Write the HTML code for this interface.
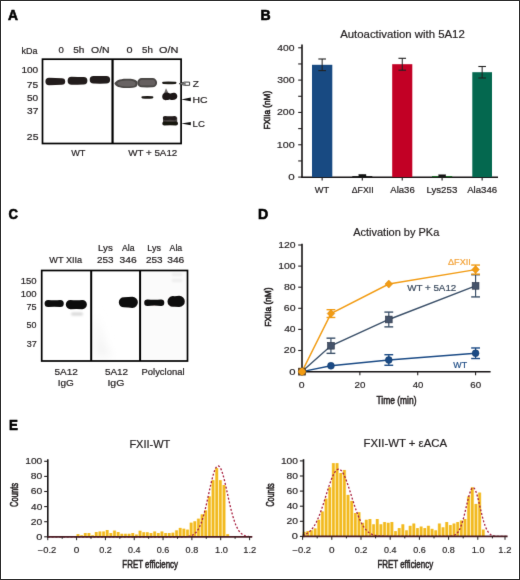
<!DOCTYPE html>
<html><head><meta charset="utf-8"><title>Figure</title>
<style>
html,body{margin:0;padding:0;background:#fff;}
body{width:520px;height:580px;overflow:hidden;}
svg{display:block;font-family:"Liberation Sans",sans-serif;will-change:transform;}
</style></head>
<body>
<svg width="520" height="580" viewBox="0 0 520 580">
<defs>
<clipPath id="clip0"><rect x="298.3" y="367.9" width="7.4" height="7.4"/></clipPath>
<filter id="blur1" x="-20%" y="-50%" width="140%" height="200%"><feGaussianBlur stdDeviation="0.6"/></filter>
<filter id="blur2" x="-50%" y="-50%" width="200%" height="200%"><feGaussianBlur stdDeviation="2"/></filter>
<filter id="blur2s" x="-50%" y="-100%" width="200%" height="300%"><feGaussianBlur stdDeviation="0.9"/></filter>
<filter id="blur3" x="-50%" y="-50%" width="200%" height="200%"><feGaussianBlur stdDeviation="5"/></filter>
<filter id="soft" x="0" y="0" width="520" height="580" filterUnits="userSpaceOnUse" color-interpolation-filters="sRGB"><feConvolveMatrix order="3" kernelMatrix="0.0064 0.0672 0.0064 0.0672 0.7056 0.0672 0.0064 0.0672 0.0064" divisor="1" edgeMode="duplicate" preserveAlpha="true"/></filter>
</defs>
<g filter="url(#soft)">
<rect width="520" height="580" fill="#fff"/>
<text x="7.97" y="19.60" font-size="14" font-weight="bold" textLength="9.99" lengthAdjust="spacingAndGlyphs" stroke="#000" stroke-width="0.6" fill="#000" >A</text>
<text x="260.57" y="19.60" font-size="14" font-weight="bold" textLength="10.16" lengthAdjust="spacingAndGlyphs" stroke="#000" stroke-width="0.6" fill="#000" >B</text>
<text x="8.46" y="218.70" font-size="14" font-weight="bold" textLength="9.50" lengthAdjust="spacingAndGlyphs" stroke="#000" stroke-width="0.6" fill="#000" >C</text>
<text x="257.97" y="218.70" font-size="14" font-weight="bold" textLength="10.22" lengthAdjust="spacingAndGlyphs" stroke="#000" stroke-width="0.6" fill="#000" >D</text>
<text x="9.02" y="429.60" font-size="14" font-weight="bold" textLength="8.90" lengthAdjust="spacingAndGlyphs" stroke="#000" stroke-width="0.6" fill="#000" >E</text>
<g filter="url(#blur1)">
<path d="M49.10 77.80 Q55.30 77.92 61.87 78.17 A3.33 3.33 0 0 1 61.87 84.83 Q55.30 85.08 49.10 85.20 A3.70 3.70 0 0 1 49.10 77.80 Z" fill="#241e1c" />
<path d="M71.60 76.80 Q77.50 76.94 83.72 77.12 A3.68 3.68 0 0 1 83.72 84.48 Q77.50 84.66 71.60 84.80 A4.00 4.00 0 0 1 71.60 76.80 Z" fill="#241e1c" />
<path d="M93.45 76.10 Q99.90 76.00 106.35 76.10 A3.75 3.75 0 0 1 106.35 83.60 Q99.90 83.70 93.45 83.60 A3.75 3.75 0 0 1 93.45 76.10 Z" fill="#241e1c" />
<path d="M114.4 83.6 C115.6 80.6 119.5 78.8 126 78.7 C131.5 78.6 135.2 79.0 136.9 81.0 C137.6 82.5 137.6 85.0 136.9 86.2 C135.2 87.7 131.5 88.1 126 88.1 C119.5 88.1 115.6 86.6 114.4 83.6 Z" fill="#4a4645"/>
<path d="M141.81 78.04 Q147.15 77.76 152.49 78.04 A4.61 4.61 0 0 1 152.49 87.26 Q147.15 87.54 141.81 87.26 A4.61 4.61 0 0 1 141.81 78.04 Z" fill="#4a4645" />
<path d="M117 83.5 C118.5 81.5 121.5 80.6 126 80.5 C130.5 80.5 133.5 80.9 135.2 82.3 C135.6 83.4 135.6 84.6 135.2 85.2 C133.5 86.3 130.5 86.4 126 86.4 C121.5 86.4 118.5 85.8 117 83.5 Z" fill="#686463"/>
<path d="M142.30 79.80 Q147.30 79.80 152.30 79.80 A2.90 2.90 0 0 1 152.30 85.60 Q147.30 85.60 142.30 85.60 A2.90 2.90 0 0 1 142.30 79.80 Z" fill="#655f5e" />
<path d="M163.22 81.63 Q169.25 81.30 175.42 81.77 A1.08 1.08 0 0 1 175.42 83.93 Q169.25 84.40 163.22 84.06 A1.22 1.22 0 0 1 163.22 81.63 Z" fill="#1f1a18" />
<path d="M142.52 96.18 Q147.40 95.62 152.28 96.18 A1.12 1.12 0 0 1 152.28 98.42 Q147.40 98.98 142.52 98.42 A1.12 1.12 0 0 1 142.52 96.18 Z" fill="#1f1a18" />
<path d="M164.0 93.6 L166.0 88.2 L168.6 93.6 Z" fill="#6e6a69"/>
<path d="M162.2 96.6 C162.2 93.8 164.2 92.4 166.4 92.4 C168.6 92.4 169.6 93.6 170.6 93.6 C171.6 93.2 173 92.6 174.4 92.8 C176.6 93.2 177.3 94.8 177.3 96.6 C177.3 99.0 175.4 100.0 172.4 100.0 C170.6 100.0 169.8 99.5 169.4 99.5 C168.8 99.6 167.6 100.2 165.6 100.2 C163.4 100.2 162.2 98.9 162.2 96.6 Z" fill="#1c1716"/>
<rect x="163.0" y="117.5" width="14.2" height="6.5" fill="#4a4443"/>
<path d="M164.95 115.90 Q169.80 116.70 174.65 115.90 A2.15 2.15 0 0 1 174.65 120.20 Q169.80 119.40 164.95 120.20 A2.15 2.15 0 0 1 164.95 115.90 Z" fill="#231d1c" />
<path d="M164.35 121.40 Q170.15 122.00 175.95 121.40 A2.05 2.05 0 0 1 175.95 125.50 Q170.15 124.90 164.35 125.50 A2.05 2.05 0 0 1 164.35 121.40 Z" fill="#161211" />
</g>
<rect x="42.5" y="59.2" width="138.6" height="84.3" fill="none" stroke="#000" stroke-width="1.7"/>
<line x1="112.55" y1="59.20" x2="112.55" y2="143.50" stroke="#000" stroke-width="2.2" />
<text x="21.60" y="54.00" font-size="8.8" textLength="16.00" lengthAdjust="spacingAndGlyphs" stroke="#231f20" stroke-width="0.2" fill="#231f20" >kDa</text>
<text x="58.63" y="52.50" font-size="8.8" textLength="5.34" lengthAdjust="spacingAndGlyphs" stroke="#231f20" stroke-width="0.2" fill="#231f20" >0</text>
<text x="73.20" y="52.50" font-size="8.8" textLength="11.15" lengthAdjust="spacingAndGlyphs" stroke="#231f20" stroke-width="0.2" fill="#231f20" >5h</text>
<text x="91.11" y="52.50" font-size="8.8" textLength="18.53" lengthAdjust="spacingAndGlyphs" stroke="#231f20" stroke-width="0.2" fill="#231f20" >O/N</text>
<text x="126.58" y="52.50" font-size="8.8" textLength="6.04" lengthAdjust="spacingAndGlyphs" stroke="#231f20" stroke-width="0.2" fill="#231f20" >0</text>
<text x="142.01" y="52.50" font-size="8.8" textLength="10.81" lengthAdjust="spacingAndGlyphs" stroke="#231f20" stroke-width="0.2" fill="#231f20" >5h</text>
<text x="159.09" y="52.50" font-size="8.8" textLength="19.39" lengthAdjust="spacingAndGlyphs" stroke="#231f20" stroke-width="0.2" fill="#231f20" >O/N</text>
<text x="21.44" y="73.20" font-size="8.8" textLength="16.75" lengthAdjust="spacingAndGlyphs" stroke="#231f20" stroke-width="0.2" fill="#231f20" >100</text>
<text x="26.88" y="88.00" font-size="8.8" textLength="11.34" lengthAdjust="spacingAndGlyphs" stroke="#231f20" stroke-width="0.2" fill="#231f20" >75</text>
<text x="27.00" y="100.60" font-size="8.8" textLength="11.19" lengthAdjust="spacingAndGlyphs" stroke="#231f20" stroke-width="0.2" fill="#231f20" >50</text>
<text x="27.01" y="114.30" font-size="8.8" textLength="11.30" lengthAdjust="spacingAndGlyphs" stroke="#231f20" stroke-width="0.2" fill="#231f20" >37</text>
<text x="26.88" y="139.70" font-size="8.8" textLength="11.55" lengthAdjust="spacingAndGlyphs" stroke="#231f20" stroke-width="0.2" fill="#231f20" >25</text>
<text x="71.16" y="156.40" font-size="9.2" textLength="14.24" lengthAdjust="spacingAndGlyphs" stroke="#231f20" stroke-width="0.2" fill="#231f20" >WT</text>
<text x="128.16" y="156.40" font-size="9.2" textLength="49.13" lengthAdjust="spacingAndGlyphs" stroke="#231f20" stroke-width="0.2" fill="#231f20" >WT + 5A12</text>
<text x="192.89" y="87.40" font-size="9.8" textLength="6.12" lengthAdjust="spacingAndGlyphs" stroke="#231f20" stroke-width="0.2" fill="#231f20" >Z</text>
<text x="192.55" y="102.90" font-size="9.8" textLength="15.04" lengthAdjust="spacingAndGlyphs" stroke="#231f20" stroke-width="0.2" fill="#231f20" >HC</text>
<text x="192.61" y="126.90" font-size="9.8" textLength="12.24" lengthAdjust="spacingAndGlyphs" stroke="#231f20" stroke-width="0.2" fill="#231f20" >LC</text>
<path d="M179.2 83.7 L184.4 82.1 L189.6 82.1 L189.6 85.3 L184.4 85.3 Z" fill="#fff" stroke="#2a2a2a" stroke-width="0.9"/>
<path d="M179.0 83.7 L185.6 82.3 L185.6 85.1 Z" fill="#6a6a6a"/>
<path d="M181.2 99.4 L190.8 97.6 L190.8 101.2 Z" fill="#111"/>
<path d="M181.2 123.6 L190.8 121.9 L190.8 125.3 Z" fill="#111"/>
<line x1="302.00" y1="44.60" x2="302.00" y2="177.90" stroke="#161314" stroke-width="1.6" />
<line x1="301.20" y1="177.20" x2="498.00" y2="177.20" stroke="#161314" stroke-width="1.6" />
<line x1="298.20" y1="177.10" x2="302.00" y2="177.10" stroke="#231f20" stroke-width="1.1" />
<line x1="298.20" y1="160.94" x2="302.00" y2="160.94" stroke="#231f20" stroke-width="1.1" />
<line x1="298.20" y1="144.77" x2="302.00" y2="144.77" stroke="#231f20" stroke-width="1.1" />
<line x1="298.20" y1="128.60" x2="302.00" y2="128.60" stroke="#231f20" stroke-width="1.1" />
<line x1="298.20" y1="112.44" x2="302.00" y2="112.44" stroke="#231f20" stroke-width="1.1" />
<line x1="298.20" y1="96.28" x2="302.00" y2="96.28" stroke="#231f20" stroke-width="1.1" />
<line x1="298.20" y1="80.11" x2="302.00" y2="80.11" stroke="#231f20" stroke-width="1.1" />
<line x1="298.20" y1="63.95" x2="302.00" y2="63.95" stroke="#231f20" stroke-width="1.1" />
<line x1="298.20" y1="47.78" x2="302.00" y2="47.78" stroke="#231f20" stroke-width="1.1" />
<text x="288.20" y="180.00" font-size="8.2" textLength="6.44" lengthAdjust="spacingAndGlyphs" stroke="#231f20" stroke-width="0.15" fill="#231f20" >0</text>
<text x="276.74" y="147.67" font-size="8.2" textLength="17.88" lengthAdjust="spacingAndGlyphs" stroke="#231f20" stroke-width="0.15" fill="#231f20" >100</text>
<text x="277.02" y="115.34" font-size="8.2" textLength="17.58" lengthAdjust="spacingAndGlyphs" stroke="#231f20" stroke-width="0.15" fill="#231f20" >200</text>
<text x="277.15" y="83.01" font-size="8.2" textLength="17.45" lengthAdjust="spacingAndGlyphs" stroke="#231f20" stroke-width="0.15" fill="#231f20" >300</text>
<text x="277.32" y="50.68" font-size="8.2" textLength="17.28" lengthAdjust="spacingAndGlyphs" stroke="#231f20" stroke-width="0.15" fill="#231f20" >400</text>
<rect x="312.00" y="64.80" width="20.30" height="112.30" fill="#184a82" />
<line x1="322.15" y1="59.00" x2="322.15" y2="70.60" stroke="#222" stroke-width="1.0" />
<line x1="318.35" y1="59.00" x2="325.95" y2="59.00" stroke="#222" stroke-width="1.1" />
<line x1="318.35" y1="70.60" x2="325.95" y2="70.60" stroke="#222" stroke-width="1.1" />
<line x1="322.15" y1="177.10" x2="322.15" y2="180.60" stroke="#231f20" stroke-width="1.1" />
<rect x="352.30" y="176.00" width="20.00" height="1.10" fill="#222" />
<line x1="362.30" y1="174.80" x2="362.30" y2="176.50" stroke="#222" stroke-width="1.0" />
<line x1="358.50" y1="174.80" x2="366.10" y2="174.80" stroke="#222" stroke-width="1.1" />
<line x1="358.50" y1="176.50" x2="366.10" y2="176.50" stroke="#222" stroke-width="1.1" />
<line x1="362.30" y1="177.10" x2="362.30" y2="180.60" stroke="#231f20" stroke-width="1.1" />
<rect x="392.20" y="64.20" width="20.10" height="112.90" fill="#c20025" />
<line x1="402.25" y1="58.30" x2="402.25" y2="70.20" stroke="#222" stroke-width="1.0" />
<line x1="398.45" y1="58.30" x2="406.05" y2="58.30" stroke="#222" stroke-width="1.1" />
<line x1="398.45" y1="70.20" x2="406.05" y2="70.20" stroke="#222" stroke-width="1.1" />
<line x1="402.25" y1="177.10" x2="402.25" y2="180.60" stroke="#231f20" stroke-width="1.1" />
<rect x="432.00" y="176.00" width="20.20" height="1.10" fill="#1f6b2a" />
<line x1="442.10" y1="175.00" x2="442.10" y2="176.50" stroke="#222" stroke-width="1.0" />
<line x1="438.30" y1="175.00" x2="445.90" y2="175.00" stroke="#222" stroke-width="1.1" />
<line x1="438.30" y1="176.50" x2="445.90" y2="176.50" stroke="#222" stroke-width="1.1" />
<line x1="442.10" y1="177.10" x2="442.10" y2="180.60" stroke="#231f20" stroke-width="1.1" />
<rect x="472.30" y="72.20" width="19.70" height="104.90" fill="#04684f" />
<line x1="482.15" y1="66.50" x2="482.15" y2="78.00" stroke="#222" stroke-width="1.0" />
<line x1="478.35" y1="66.50" x2="485.95" y2="66.50" stroke="#222" stroke-width="1.1" />
<line x1="478.35" y1="78.00" x2="485.95" y2="78.00" stroke="#222" stroke-width="1.1" />
<line x1="482.15" y1="177.10" x2="482.15" y2="180.60" stroke="#231f20" stroke-width="1.1" />
<rect x="358.70" y="174.80" width="7.50" height="2.50" fill="#111" />
<rect x="438.70" y="175.00" width="6.90" height="1.60" fill="#111" />
<text x="340.18" y="38.10" font-size="11.2" textLength="124.59" lengthAdjust="spacingAndGlyphs" stroke="#231f20" stroke-width="0.2" fill="#231f20" >Autoactivation with 5A12</text>
<text transform="translate(269.60,129.60) rotate(-90)" x="0" y="0" font-size="9.2" textLength="38.78" lengthAdjust="spacingAndGlyphs" stroke="#231f20" stroke-width="0.6" fill="#231f20">FXIIa (nM)</text>
<text x="314.76" y="193.40" font-size="9.2" textLength="14.45" lengthAdjust="spacingAndGlyphs" stroke="#231f20" stroke-width="0.2" fill="#231f20" >WT</text>
<text x="351.75" y="193.40" font-size="9.2" textLength="21.85" lengthAdjust="spacingAndGlyphs" stroke="#231f20" stroke-width="0.2" fill="#231f20" >ΔFXII</text>
<text x="390.38" y="193.40" font-size="9.2" textLength="24.33" lengthAdjust="spacingAndGlyphs" stroke="#231f20" stroke-width="0.2" fill="#231f20" >Ala36</text>
<text x="426.40" y="193.40" font-size="9.2" textLength="30.92" lengthAdjust="spacingAndGlyphs" stroke="#231f20" stroke-width="0.2" fill="#231f20" >Lys253</text>
<text x="467.18" y="193.40" font-size="9.2" textLength="30.03" lengthAdjust="spacingAndGlyphs" stroke="#231f20" stroke-width="0.2" fill="#231f20" >Ala346</text>
<path d="M96 312 C100 330 104 345 112 357 L96 357 Z" fill="#f3f3f3" filter="url(#blur3)"/>
<rect x="142" y="272" width="44" height="87" fill="#fbfbfb"/>
<g filter="url(#blur1)">
<path d="M48.15 299.90 Q54.20 300.40 60.25 299.90 A3.55 3.55 0 0 1 60.25 307.00 Q54.20 306.50 48.15 307.00 A3.55 3.55 0 0 1 48.15 299.90 Z" fill="#0e0b0b" />
<path d="M70.45 299.90 Q76.35 300.50 82.25 299.90 A4.65 4.65 0 0 1 82.25 309.20 Q76.35 308.60 70.45 309.20 A4.65 4.65 0 0 1 70.45 299.90 Z" fill="#0e0b0b" />
<path d="M123.79 297.36 Q128.35 297.12 132.35 296.80 A5.55 5.55 0 0 1 132.35 307.90 Q128.35 307.58 123.79 307.35 A4.99 4.99 0 0 1 123.79 297.36 Z" fill="#0e0b0b" />
<path d="M147.45 299.40 Q154.25 300.20 161.05 299.40 A3.25 3.25 0 0 1 161.05 305.90 Q154.25 305.10 147.45 305.90 A3.25 3.25 0 0 1 147.45 299.40 Z" fill="#0e0b0b" />
<path d="M172.82 296.08 Q176.15 296.26 179.20 295.80 A5.60 5.60 0 0 1 179.20 307.00 Q176.15 306.54 172.82 306.72 A5.32 5.32 0 0 1 172.82 296.08 Z" fill="#0e0b0b" />
</g>
<rect x="71" y="312.6" width="12" height="3" rx="1.5" fill="#d6d6d6" filter="url(#blur2s)"/>
<rect x="172" y="273" width="10" height="3" fill="#ededed" filter="url(#blur2s)"/>
<rect x="172" y="279" width="10" height="3" fill="#ededed" filter="url(#blur2s)"/>
<rect x="41.7" y="270.5" width="145.8" height="90.5" fill="none" stroke="#000" stroke-width="1.7"/>
<line x1="91.20" y1="270.50" x2="91.20" y2="361.00" stroke="#000" stroke-width="2.0" />
<line x1="140.10" y1="270.50" x2="140.10" y2="361.00" stroke="#000" stroke-width="2.0" />
<text x="49.36" y="263.30" font-size="8.8" textLength="32.83" lengthAdjust="spacingAndGlyphs" stroke="#231f20" stroke-width="0.2" fill="#231f20" >WT XIIa</text>
<text x="98.00" y="251.00" font-size="8.8" textLength="14.75" lengthAdjust="spacingAndGlyphs" stroke="#231f20" stroke-width="0.2" fill="#231f20" >Lys</text>
<text x="121.98" y="251.00" font-size="8.8" textLength="12.61" lengthAdjust="spacingAndGlyphs" stroke="#231f20" stroke-width="0.2" fill="#231f20" >Ala</text>
<text x="147.26" y="251.00" font-size="8.8" textLength="13.66" lengthAdjust="spacingAndGlyphs" stroke="#231f20" stroke-width="0.2" fill="#231f20" >Lys</text>
<text x="169.58" y="251.00" font-size="8.8" textLength="12.61" lengthAdjust="spacingAndGlyphs" stroke="#231f20" stroke-width="0.2" fill="#231f20" >Ala</text>
<text x="96.90" y="263.30" font-size="8.8" textLength="16.53" lengthAdjust="spacingAndGlyphs" stroke="#231f20" stroke-width="0.2" fill="#231f20" >253</text>
<text x="119.61" y="263.30" font-size="8.8" textLength="17.14" lengthAdjust="spacingAndGlyphs" stroke="#231f20" stroke-width="0.2" fill="#231f20" >346</text>
<text x="145.90" y="263.30" font-size="8.8" textLength="16.63" lengthAdjust="spacingAndGlyphs" stroke="#231f20" stroke-width="0.2" fill="#231f20" >253</text>
<text x="167.21" y="263.30" font-size="8.8" textLength="17.14" lengthAdjust="spacingAndGlyphs" stroke="#231f20" stroke-width="0.2" fill="#231f20" >346</text>
<text x="20.68" y="283.70" font-size="8.8" textLength="15.89" lengthAdjust="spacingAndGlyphs" stroke="#231f20" stroke-width="0.2" fill="#231f20" >150</text>
<text x="20.68" y="296.90" font-size="8.8" textLength="15.89" lengthAdjust="spacingAndGlyphs" stroke="#231f20" stroke-width="0.2" fill="#231f20" >100</text>
<text x="26.54" y="310.00" font-size="8.8" textLength="10.03" lengthAdjust="spacingAndGlyphs" stroke="#231f20" stroke-width="0.2" fill="#231f20" >75</text>
<text x="26.64" y="327.60" font-size="8.8" textLength="9.90" lengthAdjust="spacingAndGlyphs" stroke="#231f20" stroke-width="0.2" fill="#231f20" >50</text>
<text x="26.66" y="347.10" font-size="8.8" textLength="9.99" lengthAdjust="spacingAndGlyphs" stroke="#231f20" stroke-width="0.2" fill="#231f20" >37</text>
<text x="54.50" y="374.70" font-size="8.8" textLength="23.41" lengthAdjust="spacingAndGlyphs" stroke="#231f20" stroke-width="0.2" fill="#231f20" >5A12</text>
<text x="57.68" y="385.60" font-size="8.8" textLength="16.16" lengthAdjust="spacingAndGlyphs" stroke="#231f20" stroke-width="0.2" fill="#231f20" >IgG</text>
<text x="104.90" y="374.70" font-size="8.8" textLength="23.20" lengthAdjust="spacingAndGlyphs" stroke="#231f20" stroke-width="0.2" fill="#231f20" >5A12</text>
<text x="107.43" y="385.60" font-size="8.8" textLength="16.94" lengthAdjust="spacingAndGlyphs" stroke="#231f20" stroke-width="0.2" fill="#231f20" >IgG</text>
<text x="141.53" y="374.70" font-size="8.8" textLength="43.00" lengthAdjust="spacingAndGlyphs" stroke="#231f20" stroke-width="0.2" fill="#231f20" >Polyclonal</text>
<line x1="302.00" y1="243.80" x2="302.00" y2="372.40" stroke="#161314" stroke-width="1.6" />
<line x1="301.20" y1="371.70" x2="490.60" y2="371.70" stroke="#161314" stroke-width="1.6" />
<line x1="298.20" y1="371.60" x2="302.00" y2="371.60" stroke="#231f20" stroke-width="1.1" />
<text x="289.36" y="374.50" font-size="8.2" textLength="6.27" lengthAdjust="spacingAndGlyphs" stroke="#231f20" stroke-width="0.15" fill="#231f20" >0</text>
<line x1="298.20" y1="350.50" x2="302.00" y2="350.50" stroke="#231f20" stroke-width="1.1" />
<text x="283.87" y="353.40" font-size="8.2" textLength="11.73" lengthAdjust="spacingAndGlyphs" stroke="#231f20" stroke-width="0.15" fill="#231f20" >20</text>
<line x1="298.20" y1="329.40" x2="302.00" y2="329.40" stroke="#231f20" stroke-width="1.1" />
<text x="284.17" y="332.30" font-size="8.2" textLength="11.42" lengthAdjust="spacingAndGlyphs" stroke="#231f20" stroke-width="0.15" fill="#231f20" >40</text>
<line x1="298.20" y1="308.30" x2="302.00" y2="308.30" stroke="#231f20" stroke-width="1.1" />
<text x="283.87" y="311.20" font-size="8.2" textLength="11.73" lengthAdjust="spacingAndGlyphs" stroke="#231f20" stroke-width="0.15" fill="#231f20" >60</text>
<line x1="298.20" y1="287.20" x2="302.00" y2="287.20" stroke="#231f20" stroke-width="1.1" />
<text x="283.95" y="290.10" font-size="8.2" textLength="11.65" lengthAdjust="spacingAndGlyphs" stroke="#231f20" stroke-width="0.15" fill="#231f20" >80</text>
<line x1="298.20" y1="266.10" x2="302.00" y2="266.10" stroke="#231f20" stroke-width="1.1" />
<text x="278.21" y="269.00" font-size="8.2" textLength="17.39" lengthAdjust="spacingAndGlyphs" stroke="#231f20" stroke-width="0.15" fill="#231f20" >100</text>
<line x1="298.20" y1="245.00" x2="302.00" y2="245.00" stroke="#231f20" stroke-width="1.1" />
<text x="278.21" y="247.90" font-size="8.2" textLength="17.39" lengthAdjust="spacingAndGlyphs" stroke="#231f20" stroke-width="0.15" fill="#231f20" >120</text>
<line x1="359.86" y1="371.60" x2="359.86" y2="375.20" stroke="#231f20" stroke-width="1.1" />
<line x1="417.72" y1="371.60" x2="417.72" y2="375.20" stroke="#231f20" stroke-width="1.1" />
<line x1="475.58" y1="371.60" x2="475.58" y2="375.20" stroke="#231f20" stroke-width="1.1" />
<text x="298.79" y="388.00" font-size="8.2" textLength="5.81" lengthAdjust="spacingAndGlyphs" stroke="#231f20" stroke-width="0.15" fill="#231f20" >0</text>
<text x="354.57" y="388.00" font-size="8.2" textLength="10.86" lengthAdjust="spacingAndGlyphs" stroke="#231f20" stroke-width="0.15" fill="#231f20" >20</text>
<text x="412.71" y="388.00" font-size="8.2" textLength="10.57" lengthAdjust="spacingAndGlyphs" stroke="#231f20" stroke-width="0.15" fill="#231f20" >40</text>
<text x="470.29" y="388.00" font-size="8.2" textLength="10.86" lengthAdjust="spacingAndGlyphs" stroke="#231f20" stroke-width="0.15" fill="#231f20" >60</text>
<text x="353.18" y="236.30" font-size="11.0" textLength="86.12" lengthAdjust="spacingAndGlyphs" stroke="#231f20" stroke-width="0.2" fill="#231f20" >Activation by PKa</text>
<text transform="translate(271.40,326.80) rotate(-90)" x="0" y="0" font-size="9.2" textLength="39.40" lengthAdjust="spacingAndGlyphs" stroke="#231f20" stroke-width="0.6" fill="#231f20">FXIIa (nM)</text>
<text x="376.41" y="403.70" font-size="11.2" textLength="40.11" lengthAdjust="spacingAndGlyphs" stroke="#231f20" stroke-width="0.55" fill="#231f20" >Time (min)</text>
<path d="M302.00 371.60 L330.93 365.80 L388.79 360.00 L475.58 353.24" fill="none" stroke="#1a4a85" stroke-width="1.4"/>
<path d="M302.00 371.60 L330.93 345.75 L388.79 319.48 L475.58 285.83" fill="none" stroke="#3b5069" stroke-width="1.4"/>
<path d="M302.00 371.60 L330.93 313.58 L388.79 284.04 L475.58 269.58" fill="none" stroke="#f29c14" stroke-width="1.4"/>
<circle cx="302.00" cy="371.60" r="3.45" fill="#1a4a85" stroke="#133a68" stroke-width="0.5"/>
<circle cx="330.93" cy="365.80" r="3.45" fill="#1a4a85" stroke="#133a68" stroke-width="0.5"/>
<line x1="388.79" y1="354.72" x2="388.79" y2="365.27" stroke="#1a4a85" stroke-width="1.2" />
<line x1="384.39" y1="354.72" x2="393.19" y2="354.72" stroke="#1a4a85" stroke-width="1.4" />
<line x1="384.39" y1="365.27" x2="393.19" y2="365.27" stroke="#1a4a85" stroke-width="1.4" />
<circle cx="388.79" cy="360.00" r="3.45" fill="#1a4a85" stroke="#133a68" stroke-width="0.5"/>
<line x1="475.58" y1="347.97" x2="475.58" y2="358.52" stroke="#1a4a85" stroke-width="1.2" />
<line x1="471.18" y1="347.97" x2="479.98" y2="347.97" stroke="#1a4a85" stroke-width="1.4" />
<line x1="471.18" y1="358.52" x2="479.98" y2="358.52" stroke="#1a4a85" stroke-width="1.4" />
<circle cx="475.58" cy="353.24" r="3.45" fill="#1a4a85" stroke="#133a68" stroke-width="0.5"/>
<rect x="298.60" y="368.20" width="6.8" height="6.8" fill="#45536a" stroke="#2c3548" stroke-width="0.6"/>
<line x1="330.93" y1="338.16" x2="330.93" y2="353.35" stroke="#3b5069" stroke-width="1.2" />
<line x1="326.53" y1="338.16" x2="335.33" y2="338.16" stroke="#3b5069" stroke-width="1.4" />
<line x1="326.53" y1="353.35" x2="335.33" y2="353.35" stroke="#3b5069" stroke-width="1.4" />
<rect x="327.53" y="342.35" width="6.8" height="6.8" fill="#45536a" stroke="#2c3548" stroke-width="0.6"/>
<line x1="388.79" y1="312.10" x2="388.79" y2="326.87" stroke="#3b5069" stroke-width="1.2" />
<line x1="384.39" y1="312.10" x2="393.19" y2="312.10" stroke="#3b5069" stroke-width="1.4" />
<line x1="384.39" y1="326.87" x2="393.19" y2="326.87" stroke="#3b5069" stroke-width="1.4" />
<rect x="385.39" y="316.08" width="6.8" height="6.8" fill="#45536a" stroke="#2c3548" stroke-width="0.6"/>
<line x1="475.58" y1="274.75" x2="475.58" y2="296.91" stroke="#3b5069" stroke-width="1.2" />
<line x1="471.18" y1="274.75" x2="479.98" y2="274.75" stroke="#3b5069" stroke-width="1.4" />
<line x1="471.18" y1="296.91" x2="479.98" y2="296.91" stroke="#3b5069" stroke-width="1.4" />
<rect x="472.18" y="282.43" width="6.8" height="6.8" fill="#45536a" stroke="#2c3548" stroke-width="0.6"/>
<path d="M302.00 367.60 L305.80 371.60 L302.00 375.60 L298.20 371.60 Z" fill="#f29c14" stroke="#d8860e" stroke-width="0.5"/>
<line x1="330.93" y1="309.67" x2="330.93" y2="317.48" stroke="#f29c14" stroke-width="1.2" />
<line x1="326.53" y1="309.67" x2="335.33" y2="309.67" stroke="#f29c14" stroke-width="1.4" />
<line x1="326.53" y1="317.48" x2="335.33" y2="317.48" stroke="#f29c14" stroke-width="1.4" />
<path d="M330.93 309.58 L334.73 313.58 L330.93 317.58 L327.13 313.58 Z" fill="#f29c14" stroke="#d8860e" stroke-width="0.5"/>
<path d="M388.79 280.04 L392.59 284.04 L388.79 288.04 L384.99 284.04 Z" fill="#f29c14" stroke="#d8860e" stroke-width="0.5"/>
<line x1="475.58" y1="265.05" x2="475.58" y2="274.12" stroke="#f29c14" stroke-width="1.2" />
<line x1="471.18" y1="265.05" x2="479.98" y2="265.05" stroke="#f29c14" stroke-width="1.4" />
<line x1="471.18" y1="274.12" x2="479.98" y2="274.12" stroke="#f29c14" stroke-width="1.4" />
<path d="M475.58 265.58 L479.38 269.58 L475.58 273.58 L471.78 269.58 Z" fill="#f29c14" stroke="#d8860e" stroke-width="0.5"/>
<rect x="298.30" y="367.90" width="7.4" height="7.4" fill="#6b4a22"/>
<path d="M302.00 367.00 L306.60 371.60 L302.00 376.20 L297.40 371.60 Z" fill="#f29c14" clip-path="url(#clip0)"/>
<text x="448.04" y="264.90" font-size="8.6" textLength="22.80" lengthAdjust="spacingAndGlyphs" stroke="#f3a33a" stroke-width="0.2" fill="#f3a33a" >ΔFXII</text>
<text x="407.16" y="291.30" font-size="9.2" textLength="49.13" lengthAdjust="spacingAndGlyphs" stroke="#3a4a5e" stroke-width="0.2" fill="#3a4a5e" >WT + 5A12</text>
<text x="453.36" y="367.50" font-size="9.0" textLength="13.74" lengthAdjust="spacingAndGlyphs" stroke="#1f4d86" stroke-width="0.2" fill="#1f4d86" >WT</text>
<rect x="76.17" y="534.16" width="3.65" height="2.64" fill="#fbe8a8" />
<rect x="76.75" y="534.16" width="2.50" height="2.64" fill="#f2b91f" />
<rect x="79.83" y="535.29" width="3.65" height="1.51" fill="#fbe8a8" />
<rect x="80.40" y="535.29" width="2.50" height="1.51" fill="#f2b91f" />
<rect x="83.47" y="533.02" width="3.65" height="3.77" fill="#fbe8a8" />
<rect x="84.05" y="533.02" width="2.50" height="3.77" fill="#f2b91f" />
<rect x="87.12" y="533.02" width="3.65" height="3.77" fill="#fbe8a8" />
<rect x="87.70" y="533.02" width="2.50" height="3.77" fill="#f2b91f" />
<rect x="90.77" y="535.29" width="3.65" height="1.51" fill="#fbe8a8" />
<rect x="91.35" y="535.29" width="2.50" height="1.51" fill="#f2b91f" />
<rect x="94.42" y="532.04" width="3.65" height="4.76" fill="#fbe8a8" />
<rect x="95.00" y="532.04" width="2.50" height="4.76" fill="#f2b91f" />
<rect x="98.07" y="531.51" width="3.65" height="5.29" fill="#fbe8a8" />
<rect x="98.65" y="531.51" width="2.50" height="5.29" fill="#f2b91f" />
<rect x="101.72" y="531.51" width="3.65" height="5.29" fill="#fbe8a8" />
<rect x="102.30" y="531.51" width="2.50" height="5.29" fill="#f2b91f" />
<rect x="105.37" y="530.00" width="3.65" height="6.79" fill="#fbe8a8" />
<rect x="105.95" y="530.00" width="2.50" height="6.79" fill="#f2b91f" />
<rect x="109.02" y="533.02" width="3.65" height="3.77" fill="#fbe8a8" />
<rect x="109.60" y="533.02" width="2.50" height="3.77" fill="#f2b91f" />
<rect x="112.67" y="530.61" width="3.65" height="6.19" fill="#fbe8a8" />
<rect x="113.25" y="530.61" width="2.50" height="6.19" fill="#f2b91f" />
<rect x="116.32" y="532.04" width="3.65" height="4.76" fill="#fbe8a8" />
<rect x="116.90" y="532.04" width="2.50" height="4.76" fill="#f2b91f" />
<rect x="119.97" y="533.78" width="3.65" height="3.02" fill="#fbe8a8" />
<rect x="120.55" y="533.78" width="2.50" height="3.02" fill="#f2b91f" />
<rect x="123.62" y="533.78" width="3.65" height="3.02" fill="#fbe8a8" />
<rect x="124.20" y="533.78" width="2.50" height="3.02" fill="#f2b91f" />
<rect x="127.27" y="533.78" width="3.65" height="3.02" fill="#fbe8a8" />
<rect x="127.85" y="533.78" width="2.50" height="3.02" fill="#f2b91f" />
<rect x="130.93" y="533.02" width="3.65" height="3.77" fill="#fbe8a8" />
<rect x="131.50" y="533.02" width="2.50" height="3.77" fill="#f2b91f" />
<rect x="134.57" y="534.53" width="3.65" height="2.27" fill="#fbe8a8" />
<rect x="135.15" y="534.53" width="2.50" height="2.27" fill="#f2b91f" />
<rect x="138.23" y="530.76" width="3.65" height="6.04" fill="#fbe8a8" />
<rect x="138.80" y="530.76" width="2.50" height="6.04" fill="#f2b91f" />
<rect x="141.88" y="532.27" width="3.65" height="4.53" fill="#fbe8a8" />
<rect x="142.45" y="532.27" width="2.50" height="4.53" fill="#f2b91f" />
<rect x="145.53" y="532.27" width="3.65" height="4.53" fill="#fbe8a8" />
<rect x="146.10" y="532.27" width="2.50" height="4.53" fill="#f2b91f" />
<rect x="149.18" y="533.02" width="3.65" height="3.77" fill="#fbe8a8" />
<rect x="149.75" y="533.02" width="2.50" height="3.77" fill="#f2b91f" />
<rect x="152.82" y="531.51" width="3.65" height="5.29" fill="#fbe8a8" />
<rect x="153.40" y="531.51" width="2.50" height="5.29" fill="#f2b91f" />
<rect x="156.47" y="533.02" width="3.65" height="3.77" fill="#fbe8a8" />
<rect x="157.05" y="533.02" width="2.50" height="3.77" fill="#f2b91f" />
<rect x="160.12" y="531.51" width="3.65" height="5.29" fill="#fbe8a8" />
<rect x="160.70" y="531.51" width="2.50" height="5.29" fill="#f2b91f" />
<rect x="163.78" y="533.02" width="3.65" height="3.77" fill="#fbe8a8" />
<rect x="164.35" y="533.02" width="2.50" height="3.77" fill="#f2b91f" />
<rect x="167.43" y="533.02" width="3.65" height="3.77" fill="#fbe8a8" />
<rect x="168.00" y="533.02" width="2.50" height="3.77" fill="#f2b91f" />
<rect x="171.07" y="532.72" width="3.65" height="4.08" fill="#fbe8a8" />
<rect x="171.65" y="532.72" width="2.50" height="4.08" fill="#f2b91f" />
<rect x="174.72" y="530.38" width="3.65" height="6.42" fill="#fbe8a8" />
<rect x="175.30" y="530.38" width="2.50" height="6.42" fill="#f2b91f" />
<rect x="178.38" y="527.89" width="3.65" height="8.91" fill="#fbe8a8" />
<rect x="178.95" y="527.89" width="2.50" height="8.91" fill="#f2b91f" />
<rect x="182.03" y="528.72" width="3.65" height="8.08" fill="#fbe8a8" />
<rect x="182.60" y="528.72" width="2.50" height="8.08" fill="#f2b91f" />
<rect x="185.68" y="529.63" width="3.65" height="7.17" fill="#fbe8a8" />
<rect x="186.25" y="529.63" width="2.50" height="7.17" fill="#f2b91f" />
<rect x="189.32" y="522.68" width="3.65" height="14.12" fill="#fbe8a8" />
<rect x="189.90" y="522.68" width="2.50" height="14.12" fill="#f2b91f" />
<rect x="192.97" y="521.32" width="3.65" height="15.48" fill="#fbe8a8" />
<rect x="193.55" y="521.32" width="2.50" height="15.48" fill="#f2b91f" />
<rect x="196.62" y="518.68" width="3.65" height="18.12" fill="#fbe8a8" />
<rect x="197.20" y="518.68" width="2.50" height="18.12" fill="#f2b91f" />
<rect x="200.28" y="514.38" width="3.65" height="22.42" fill="#fbe8a8" />
<rect x="200.85" y="514.38" width="2.50" height="22.42" fill="#f2b91f" />
<rect x="203.93" y="510.37" width="3.65" height="26.43" fill="#fbe8a8" />
<rect x="204.50" y="510.37" width="2.50" height="26.43" fill="#f2b91f" />
<rect x="207.57" y="496.41" width="3.65" height="40.39" fill="#fbe8a8" />
<rect x="208.15" y="496.41" width="2.50" height="40.39" fill="#f2b91f" />
<rect x="211.22" y="480.17" width="3.65" height="56.62" fill="#fbe8a8" />
<rect x="211.80" y="480.17" width="2.50" height="56.62" fill="#f2b91f" />
<rect x="214.88" y="468.09" width="3.65" height="68.70" fill="#fbe8a8" />
<rect x="215.45" y="468.09" width="2.50" height="68.70" fill="#f2b91f" />
<rect x="218.53" y="480.17" width="3.65" height="56.62" fill="#fbe8a8" />
<rect x="219.10" y="480.17" width="2.50" height="56.62" fill="#f2b91f" />
<rect x="222.18" y="485.01" width="3.65" height="51.79" fill="#fbe8a8" />
<rect x="222.75" y="485.01" width="2.50" height="51.79" fill="#f2b91f" />
<rect x="225.82" y="534.23" width="3.65" height="2.57" fill="#fbe8a8" />
<rect x="226.40" y="534.23" width="2.50" height="2.57" fill="#f2b91f" />
<path d="M47.78 536.80 L48.46 536.80 L49.14 536.80 L49.82 536.80 L50.51 536.80 L51.19 536.80 L51.87 536.80 L52.55 536.80 L53.23 536.80 L53.91 536.80 L54.59 536.80 L55.28 536.80 L55.96 536.80 L56.64 536.80 L57.32 536.80 L58.00 536.80 L58.68 536.80 L59.36 536.80 L60.05 536.80 L60.73 536.80 L61.41 536.80 L62.09 536.80 L62.77 536.80 L63.45 536.80 L64.13 536.80 L64.82 536.80 L65.50 536.80 L66.18 536.80 L66.86 536.80 L67.54 536.80 L68.22 536.80 L68.90 536.80 L69.58 536.80 L70.27 536.80 L70.95 536.80 L71.63 536.80 L72.31 536.80 L72.99 536.80 L73.67 536.80 L74.35 536.80 L75.04 536.80 L75.72 536.80 L76.40 536.80 L77.08 536.80 L77.76 536.80 L78.44 536.80 L79.12 536.80 L79.81 536.80 L80.49 536.80 L81.17 536.80 L81.85 536.80 L82.53 536.80 L83.21 536.80 L83.89 536.80 L84.58 536.80 L85.26 536.80 L85.94 536.80 L86.62 536.80 L87.30 536.80 L87.98 536.80 L88.66 536.80 L89.35 536.80 L90.03 536.80 L90.71 536.80 L91.39 536.80 L92.07 536.80 L92.75 536.80 L93.43 536.80 L94.12 536.80 L94.80 536.80 L95.48 536.80 L96.16 536.80 L96.84 536.80 L97.52 536.80 L98.20 536.80 L98.89 536.80 L99.57 536.80 L100.25 536.80 L100.93 536.80 L101.61 536.80 L102.29 536.80 L102.97 536.80 L103.65 536.80 L104.34 536.80 L105.02 536.80 L105.70 536.80 L106.38 536.80 L107.06 536.80 L107.74 536.80 L108.42 536.80 L109.11 536.80 L109.79 536.80 L110.47 536.80 L111.15 536.80 L111.83 536.80 L112.51 536.80 L113.19 536.80 L113.88 536.80 L114.56 536.80 L115.24 536.80 L115.92 536.80 L116.60 536.80 L117.28 536.80 L117.96 536.80 L118.65 536.80 L119.33 536.80 L120.01 536.80 L120.69 536.80 L121.37 536.80 L122.05 536.80 L122.73 536.80 L123.42 536.80 L124.10 536.80 L124.78 536.80 L125.46 536.80 L126.14 536.80 L126.82 536.80 L127.50 536.80 L128.19 536.80 L128.87 536.80 L129.55 536.80 L130.23 536.80 L130.91 536.80 L131.59 536.80 L132.27 536.80 L132.96 536.80 L133.64 536.80 L134.32 536.80 L135.00 536.80 L135.68 536.80 L136.36 536.80 L137.04 536.80 L137.72 536.80 L138.41 536.80 L139.09 536.80 L139.77 536.80 L140.45 536.80 L141.13 536.80 L141.81 536.80 L142.49 536.80 L143.18 536.80 L143.86 536.80 L144.54 536.80 L145.22 536.80 L145.90 536.80 L146.58 536.80 L147.26 536.80 L147.95 536.80 L148.63 536.80 L149.31 536.80 L149.99 536.80 L150.67 536.80 L151.35 536.80 L152.03 536.80 L152.72 536.80 L153.40 536.80 L154.08 536.80 L154.76 536.80 L155.44 536.80 L156.12 536.80 L156.80 536.80 L157.49 536.80 L158.17 536.80 L158.85 536.80 L159.53 536.80 L160.21 536.80 L160.89 536.80 L161.57 536.80 L162.26 536.80 L162.94 536.80 L163.62 536.80 L164.30 536.80 L164.98 536.80 L165.66 536.80 L166.34 536.80 L167.03 536.80 L167.71 536.80 L168.39 536.80 L169.07 536.80 L169.75 536.80 L170.43 536.80 L171.11 536.80 L171.79 536.80 L172.48 536.80 L173.16 536.80 L173.84 536.80 L174.52 536.80 L175.20 536.80 L175.88 536.80 L176.56 536.80 L177.25 536.79 L177.93 536.79 L178.61 536.79 L179.29 536.79 L179.97 536.78 L180.65 536.78 L181.33 536.77 L182.02 536.76 L182.70 536.74 L183.38 536.73 L184.06 536.70 L184.74 536.68 L185.42 536.64 L186.10 536.59 L186.79 536.54 L187.47 536.46 L188.15 536.37 L188.83 536.26 L189.51 536.13 L190.19 535.96 L190.87 535.76 L191.56 535.52 L192.24 535.23 L192.92 534.89 L193.60 534.48 L194.28 534.01 L194.96 533.45 L195.64 532.80 L196.33 532.05 L197.01 531.19 L197.69 530.21 L198.37 529.09 L199.05 527.84 L199.73 526.44 L200.41 524.88 L201.10 523.16 L201.78 521.27 L202.46 519.22 L203.14 517.00 L203.82 514.62 L204.50 512.08 L205.18 509.40 L205.87 506.59 L206.55 503.66 L207.23 500.65 L207.91 497.56 L208.59 494.44 L209.27 491.31 L209.95 488.21 L210.63 485.17 L211.32 482.23 L212.00 479.43 L212.68 476.80 L213.36 474.38 L214.04 472.21 L214.72 470.31 L215.40 468.72 L216.09 467.46 L216.77 466.55 L217.45 466.00 L218.13 465.83 L218.81 466.03 L219.49 466.60 L220.17 467.54 L220.86 468.82 L221.54 470.44 L222.22 472.35 L222.90 474.54 L223.58 476.98 L224.26 479.62 L224.94 482.43 L225.63 485.38 L226.31 488.43 L226.99 491.53 L227.67 494.66 L228.35 497.78 L229.03 500.86 L229.71 503.87 L230.40 506.79 L231.08 509.59 L231.76 512.27 L232.44 514.79 L233.12 517.16 L233.80 519.37 L234.48 521.41 L235.17 523.29 L235.85 524.99 L236.53 526.54 L237.21 527.93 L237.89 529.18 L238.57 530.28 L239.25 531.25 L239.94 532.10 L240.62 532.85 L241.30 533.49 L241.98 534.04 L242.66 534.52 L243.34 534.92 L244.02 535.26 L244.70 535.54 L245.39 535.78 L246.07 535.98 L246.75 536.14 L247.43 536.27 L248.11 536.38 L248.79 536.47 L249.47 536.54 L250.16 536.60 L250.84 536.64 L251.52 536.68 L252.20 536.71" fill="none" stroke="#a81e3e" stroke-width="1.3" stroke-dasharray="2 1.8"/>
<line x1="47.80" y1="459.20" x2="47.80" y2="537.60" stroke="#161314" stroke-width="1.6" />
<line x1="47.00" y1="536.80" x2="252.20" y2="536.80" stroke="#4a1c24" stroke-width="1.7" />
<line x1="44.20" y1="536.80" x2="47.80" y2="536.80" stroke="#231f20" stroke-width="1.1" />
<text x="36.17" y="539.70" font-size="8.2" textLength="6.15" lengthAdjust="spacingAndGlyphs" stroke="#231f20" stroke-width="0.15" fill="#231f20" >0</text>
<line x1="44.20" y1="521.70" x2="47.80" y2="521.70" stroke="#231f20" stroke-width="1.1" />
<text x="30.78" y="524.60" font-size="8.2" textLength="11.51" lengthAdjust="spacingAndGlyphs" stroke="#231f20" stroke-width="0.15" fill="#231f20" >20</text>
<line x1="44.20" y1="506.60" x2="47.80" y2="506.60" stroke="#231f20" stroke-width="1.1" />
<text x="31.08" y="509.50" font-size="8.2" textLength="11.21" lengthAdjust="spacingAndGlyphs" stroke="#231f20" stroke-width="0.15" fill="#231f20" >40</text>
<line x1="44.20" y1="491.50" x2="47.80" y2="491.50" stroke="#231f20" stroke-width="1.1" />
<text x="30.78" y="494.40" font-size="8.2" textLength="11.51" lengthAdjust="spacingAndGlyphs" stroke="#231f20" stroke-width="0.15" fill="#231f20" >60</text>
<line x1="44.20" y1="476.40" x2="47.80" y2="476.40" stroke="#231f20" stroke-width="1.1" />
<text x="30.86" y="479.30" font-size="8.2" textLength="11.44" lengthAdjust="spacingAndGlyphs" stroke="#231f20" stroke-width="0.15" fill="#231f20" >80</text>
<line x1="44.20" y1="461.30" x2="47.80" y2="461.30" stroke="#231f20" stroke-width="1.1" />
<text x="25.22" y="464.20" font-size="8.2" textLength="17.07" lengthAdjust="spacingAndGlyphs" stroke="#231f20" stroke-width="0.15" fill="#231f20" >100</text>
<line x1="47.78" y1="536.80" x2="47.78" y2="540.20" stroke="#231f20" stroke-width="1.0" />
<line x1="62.19" y1="536.80" x2="62.19" y2="538.80" stroke="#231f20" stroke-width="1.0" />
<line x1="76.60" y1="536.80" x2="76.60" y2="540.20" stroke="#231f20" stroke-width="1.0" />
<line x1="91.01" y1="536.80" x2="91.01" y2="538.80" stroke="#231f20" stroke-width="1.0" />
<line x1="105.42" y1="536.80" x2="105.42" y2="540.20" stroke="#231f20" stroke-width="1.0" />
<line x1="119.83" y1="536.80" x2="119.83" y2="538.80" stroke="#231f20" stroke-width="1.0" />
<line x1="134.24" y1="536.80" x2="134.24" y2="540.20" stroke="#231f20" stroke-width="1.0" />
<line x1="148.65" y1="536.80" x2="148.65" y2="538.80" stroke="#231f20" stroke-width="1.0" />
<line x1="163.06" y1="536.80" x2="163.06" y2="540.20" stroke="#231f20" stroke-width="1.0" />
<line x1="177.47" y1="536.80" x2="177.47" y2="538.80" stroke="#231f20" stroke-width="1.0" />
<line x1="191.88" y1="536.80" x2="191.88" y2="540.20" stroke="#231f20" stroke-width="1.0" />
<line x1="206.29" y1="536.80" x2="206.29" y2="538.80" stroke="#231f20" stroke-width="1.0" />
<line x1="220.70" y1="536.80" x2="220.70" y2="540.20" stroke="#231f20" stroke-width="1.0" />
<line x1="235.11" y1="536.80" x2="235.11" y2="538.80" stroke="#231f20" stroke-width="1.0" />
<line x1="249.60" y1="536.80" x2="249.60" y2="540.20" stroke="#231f20" stroke-width="1.0" />
<text x="37.72" y="552.70" font-size="8.2" textLength="18.53" lengthAdjust="spacingAndGlyphs" stroke="#231f20" stroke-width="0.15" fill="#231f20" >−0.2</text>
<text x="73.81" y="552.70" font-size="8.2" textLength="5.57" lengthAdjust="spacingAndGlyphs" stroke="#231f20" stroke-width="0.15" fill="#231f20" >0</text>
<text x="99.17" y="552.70" font-size="8.2" textLength="12.61" lengthAdjust="spacingAndGlyphs" stroke="#231f20" stroke-width="0.15" fill="#231f20" >0.2</text>
<text x="127.99" y="552.70" font-size="8.2" textLength="12.41" lengthAdjust="spacingAndGlyphs" stroke="#231f20" stroke-width="0.15" fill="#231f20" >0.4</text>
<text x="156.81" y="552.70" font-size="8.2" textLength="12.54" lengthAdjust="spacingAndGlyphs" stroke="#231f20" stroke-width="0.15" fill="#231f20" >0.6</text>
<text x="185.63" y="552.70" font-size="8.2" textLength="12.54" lengthAdjust="spacingAndGlyphs" stroke="#231f20" stroke-width="0.15" fill="#231f20" >0.8</text>
<text x="215.10" y="552.70" font-size="8.2" textLength="12.86" lengthAdjust="spacingAndGlyphs" stroke="#231f20" stroke-width="0.15" fill="#231f20" >1.0</text>
<text x="243.29" y="552.70" font-size="8.2" textLength="12.98" lengthAdjust="spacingAndGlyphs" stroke="#231f20" stroke-width="0.15" fill="#231f20" >1.2</text>
<text x="129.40" y="447.70" font-size="11.0" textLength="40.96" lengthAdjust="spacingAndGlyphs" stroke="#231f20" stroke-width="0.2" fill="#231f20" >FXII-WT</text>
<text transform="translate(18.30,506.90) rotate(-90)" x="0" y="0" font-size="11.0" textLength="23.95" lengthAdjust="spacingAndGlyphs" stroke="#231f20" stroke-width="0.6" fill="#231f20">Counts</text>
<text x="122.35" y="568.40" font-size="11.0" textLength="55.67" lengthAdjust="spacingAndGlyphs" stroke="#231f20" stroke-width="0.55" fill="#231f20" >FRET efficiency</text>
<rect x="302.33" y="531.87" width="3.65" height="4.53" fill="#fbe8a8" />
<rect x="302.91" y="531.87" width="2.50" height="4.53" fill="#f2b91f" />
<rect x="305.99" y="531.12" width="3.65" height="5.29" fill="#fbe8a8" />
<rect x="306.56" y="531.12" width="2.50" height="5.29" fill="#f2b91f" />
<rect x="309.64" y="530.36" width="3.65" height="6.04" fill="#fbe8a8" />
<rect x="310.22" y="530.36" width="2.50" height="6.04" fill="#f2b91f" />
<rect x="313.30" y="528.47" width="3.65" height="7.93" fill="#fbe8a8" />
<rect x="313.88" y="528.47" width="2.50" height="7.93" fill="#f2b91f" />
<rect x="316.95" y="519.79" width="3.65" height="16.61" fill="#fbe8a8" />
<rect x="317.53" y="519.79" width="2.50" height="16.61" fill="#f2b91f" />
<rect x="320.61" y="511.48" width="3.65" height="24.91" fill="#fbe8a8" />
<rect x="321.19" y="511.48" width="2.50" height="24.91" fill="#f2b91f" />
<rect x="324.26" y="498.65" width="3.65" height="37.75" fill="#fbe8a8" />
<rect x="324.84" y="498.65" width="2.50" height="37.75" fill="#f2b91f" />
<rect x="327.92" y="487.32" width="3.65" height="49.08" fill="#fbe8a8" />
<rect x="328.50" y="487.32" width="2.50" height="49.08" fill="#f2b91f" />
<rect x="331.57" y="463.16" width="3.65" height="73.23" fill="#fbe8a8" />
<rect x="332.15" y="463.16" width="2.50" height="73.23" fill="#f2b91f" />
<rect x="335.23" y="463.16" width="3.65" height="73.23" fill="#fbe8a8" />
<rect x="335.80" y="463.16" width="2.50" height="73.23" fill="#f2b91f" />
<rect x="338.88" y="472.98" width="3.65" height="63.42" fill="#fbe8a8" />
<rect x="339.46" y="472.98" width="2.50" height="63.42" fill="#f2b91f" />
<rect x="342.54" y="469.96" width="3.65" height="66.44" fill="#fbe8a8" />
<rect x="343.11" y="469.96" width="2.50" height="66.44" fill="#f2b91f" />
<rect x="346.19" y="494.88" width="3.65" height="41.52" fill="#fbe8a8" />
<rect x="346.77" y="494.88" width="2.50" height="41.52" fill="#f2b91f" />
<rect x="349.85" y="500.91" width="3.65" height="35.48" fill="#fbe8a8" />
<rect x="350.42" y="500.91" width="2.50" height="35.48" fill="#f2b91f" />
<rect x="353.50" y="513.00" width="3.65" height="23.41" fill="#fbe8a8" />
<rect x="354.08" y="513.00" width="2.50" height="23.41" fill="#f2b91f" />
<rect x="357.16" y="512.24" width="3.65" height="24.16" fill="#fbe8a8" />
<rect x="357.73" y="512.24" width="2.50" height="24.16" fill="#f2b91f" />
<rect x="360.81" y="522.81" width="3.65" height="13.59" fill="#fbe8a8" />
<rect x="361.39" y="522.81" width="2.50" height="13.59" fill="#f2b91f" />
<rect x="364.47" y="519.79" width="3.65" height="16.61" fill="#fbe8a8" />
<rect x="365.04" y="519.79" width="2.50" height="16.61" fill="#f2b91f" />
<rect x="368.12" y="519.03" width="3.65" height="17.36" fill="#fbe8a8" />
<rect x="368.70" y="519.03" width="2.50" height="17.36" fill="#f2b91f" />
<rect x="371.78" y="524.32" width="3.65" height="12.08" fill="#fbe8a8" />
<rect x="372.35" y="524.32" width="2.50" height="12.08" fill="#f2b91f" />
<rect x="375.44" y="519.03" width="3.65" height="17.36" fill="#fbe8a8" />
<rect x="376.01" y="519.03" width="2.50" height="17.36" fill="#f2b91f" />
<rect x="379.09" y="524.32" width="3.65" height="12.08" fill="#fbe8a8" />
<rect x="379.66" y="524.32" width="2.50" height="12.08" fill="#f2b91f" />
<rect x="382.75" y="522.05" width="3.65" height="14.35" fill="#fbe8a8" />
<rect x="383.32" y="522.05" width="2.50" height="14.35" fill="#f2b91f" />
<rect x="386.40" y="522.81" width="3.65" height="13.59" fill="#fbe8a8" />
<rect x="386.97" y="522.81" width="2.50" height="13.59" fill="#f2b91f" />
<rect x="390.06" y="522.05" width="3.65" height="14.35" fill="#fbe8a8" />
<rect x="390.63" y="522.05" width="2.50" height="14.35" fill="#f2b91f" />
<rect x="393.71" y="531.12" width="3.65" height="5.29" fill="#fbe8a8" />
<rect x="394.28" y="531.12" width="2.50" height="5.29" fill="#f2b91f" />
<rect x="397.36" y="528.10" width="3.65" height="8.30" fill="#fbe8a8" />
<rect x="397.94" y="528.10" width="2.50" height="8.30" fill="#f2b91f" />
<rect x="401.02" y="524.32" width="3.65" height="12.08" fill="#fbe8a8" />
<rect x="401.59" y="524.32" width="2.50" height="12.08" fill="#f2b91f" />
<rect x="404.68" y="530.36" width="3.65" height="6.04" fill="#fbe8a8" />
<rect x="405.25" y="530.36" width="2.50" height="6.04" fill="#f2b91f" />
<rect x="408.33" y="525.83" width="3.65" height="10.57" fill="#fbe8a8" />
<rect x="408.90" y="525.83" width="2.50" height="10.57" fill="#f2b91f" />
<rect x="411.98" y="523.56" width="3.65" height="12.84" fill="#fbe8a8" />
<rect x="412.56" y="523.56" width="2.50" height="12.84" fill="#f2b91f" />
<rect x="415.64" y="528.10" width="3.65" height="8.30" fill="#fbe8a8" />
<rect x="416.21" y="528.10" width="2.50" height="8.30" fill="#f2b91f" />
<rect x="419.30" y="526.58" width="3.65" height="9.81" fill="#fbe8a8" />
<rect x="419.87" y="526.58" width="2.50" height="9.81" fill="#f2b91f" />
<rect x="422.95" y="528.10" width="3.65" height="8.30" fill="#fbe8a8" />
<rect x="423.52" y="528.10" width="2.50" height="8.30" fill="#f2b91f" />
<rect x="426.60" y="525.83" width="3.65" height="10.57" fill="#fbe8a8" />
<rect x="427.18" y="525.83" width="2.50" height="10.57" fill="#f2b91f" />
<rect x="430.26" y="528.85" width="3.65" height="7.55" fill="#fbe8a8" />
<rect x="430.83" y="528.85" width="2.50" height="7.55" fill="#f2b91f" />
<rect x="433.91" y="530.36" width="3.65" height="6.04" fill="#fbe8a8" />
<rect x="434.49" y="530.36" width="2.50" height="6.04" fill="#f2b91f" />
<rect x="437.57" y="523.56" width="3.65" height="12.84" fill="#fbe8a8" />
<rect x="438.14" y="523.56" width="2.50" height="12.84" fill="#f2b91f" />
<rect x="441.22" y="527.34" width="3.65" height="9.06" fill="#fbe8a8" />
<rect x="441.80" y="527.34" width="2.50" height="9.06" fill="#f2b91f" />
<rect x="444.88" y="522.05" width="3.65" height="14.35" fill="#fbe8a8" />
<rect x="445.45" y="522.05" width="2.50" height="14.35" fill="#f2b91f" />
<rect x="448.53" y="525.07" width="3.65" height="11.32" fill="#fbe8a8" />
<rect x="449.11" y="525.07" width="2.50" height="11.32" fill="#f2b91f" />
<rect x="452.19" y="523.56" width="3.65" height="12.84" fill="#fbe8a8" />
<rect x="452.76" y="523.56" width="2.50" height="12.84" fill="#f2b91f" />
<rect x="455.84" y="522.05" width="3.65" height="14.35" fill="#fbe8a8" />
<rect x="456.42" y="522.05" width="2.50" height="14.35" fill="#f2b91f" />
<rect x="459.50" y="520.54" width="3.65" height="15.86" fill="#fbe8a8" />
<rect x="460.07" y="520.54" width="2.50" height="15.86" fill="#f2b91f" />
<rect x="463.15" y="519.03" width="3.65" height="17.36" fill="#fbe8a8" />
<rect x="463.73" y="519.03" width="2.50" height="17.36" fill="#f2b91f" />
<rect x="466.81" y="496.38" width="3.65" height="40.02" fill="#fbe8a8" />
<rect x="467.38" y="496.38" width="2.50" height="40.02" fill="#f2b91f" />
<rect x="470.46" y="487.32" width="3.65" height="49.08" fill="#fbe8a8" />
<rect x="471.04" y="487.32" width="2.50" height="49.08" fill="#f2b91f" />
<rect x="474.12" y="503.93" width="3.65" height="32.47" fill="#fbe8a8" />
<rect x="474.69" y="503.93" width="2.50" height="32.47" fill="#f2b91f" />
<rect x="477.77" y="492.61" width="3.65" height="43.79" fill="#fbe8a8" />
<rect x="478.35" y="492.61" width="2.50" height="43.79" fill="#f2b91f" />
<rect x="481.43" y="529.61" width="3.65" height="6.79" fill="#fbe8a8" />
<rect x="482.00" y="529.61" width="2.50" height="6.79" fill="#f2b91f" />
<path d="M302.60 535.21 L303.28 535.01 L303.97 534.79 L304.65 534.54 L305.33 534.25 L306.02 533.93 L306.70 533.57 L307.38 533.16 L308.07 532.71 L308.75 532.20 L309.43 531.64 L310.12 531.02 L310.80 530.34 L311.48 529.59 L312.17 528.77 L312.85 527.88 L313.53 526.91 L314.22 525.86 L314.90 524.72 L315.58 523.51 L316.27 522.20 L316.95 520.81 L317.63 519.33 L318.32 517.77 L319.00 516.13 L319.68 514.40 L320.37 512.59 L321.05 510.71 L321.73 508.76 L322.42 506.75 L323.10 504.68 L323.78 502.57 L324.46 500.42 L325.15 498.25 L325.83 496.06 L326.51 493.87 L327.20 491.68 L327.88 489.53 L328.56 487.41 L329.25 485.34 L329.93 483.34 L330.61 481.42 L331.30 479.60 L331.98 477.89 L332.66 476.29 L333.35 474.84 L334.03 473.53 L334.71 472.37 L335.40 471.39 L336.08 470.58 L336.76 469.95 L337.45 469.51 L338.13 469.26 L338.81 469.21 L339.50 469.35 L340.18 469.68 L340.86 470.21 L341.55 470.92 L342.23 471.80 L342.91 472.87 L343.60 474.09 L344.28 475.47 L344.96 476.99 L345.65 478.63 L346.33 480.40 L347.01 482.27 L347.70 484.22 L348.38 486.25 L349.06 488.35 L349.75 490.48 L350.43 492.65 L351.11 494.84 L351.80 497.03 L352.48 499.21 L353.16 501.38 L353.85 503.51 L354.53 505.60 L355.21 507.65 L355.90 509.63 L356.58 511.55 L357.26 513.40 L357.95 515.17 L358.63 516.87 L359.31 518.48 L360.00 520.00 L360.68 521.44 L361.36 522.79 L362.05 524.06 L362.73 525.24 L363.41 526.33 L364.10 527.35 L364.78 528.28 L365.46 529.14 L366.15 529.93 L366.83 530.65 L367.51 531.30 L368.19 531.90 L368.88 532.43 L369.56 532.91 L370.24 533.35 L370.93 533.73 L371.61 534.08 L372.29 534.38 L372.98 534.65 L373.66 534.89 L374.34 535.10 L375.03 535.28 L375.71 535.45 L376.39 535.58 L377.08 535.71 L377.76 535.81 L378.44 535.90 L379.13 535.98 L379.81 536.05 L380.49 536.10 L381.18 536.15 L381.86 536.19 L382.54 536.23 L383.23 536.26 L383.91 536.28 L384.59 536.30 L385.28 536.32 L385.96 536.33 L386.64 536.35 L387.33 536.36 L388.01 536.36 L388.69 536.37 L389.38 536.38 L390.06 536.38 L390.74 536.38 L391.43 536.39 L392.11 536.39 L392.79 536.39 L393.48 536.39 L394.16 536.40 L394.84 536.40 L395.53 536.40 L396.21 536.40 L396.89 536.40 L397.58 536.40 L398.26 536.40 L398.94 536.40 L399.63 536.40 L400.31 536.40 L400.99 536.40 L401.68 536.40 L402.36 536.40 L403.04 536.40 L403.73 536.40 L404.41 536.40 L405.09 536.40 L405.78 536.40 L406.46 536.40 L407.14 536.40 L407.83 536.40 L408.51 536.40 L409.19 536.40 L409.87 536.40 L410.56 536.40 L411.24 536.40 L411.92 536.40 L412.61 536.40 L413.29 536.40 L413.97 536.40 L414.66 536.40 L415.34 536.40 L416.02 536.40 L416.71 536.40 L417.39 536.40 L418.07 536.40 L418.76 536.40 L419.44 536.40 L420.12 536.40 L420.81 536.40 L421.49 536.40 L422.17 536.40 L422.86 536.40 L423.54 536.40 L424.22 536.40 L424.91 536.40 L425.59 536.40 L426.27 536.40 L426.96 536.40 L427.64 536.40 L428.32 536.40 L429.01 536.40 L429.69 536.40 L430.37 536.40 L431.06 536.40 L431.74 536.40 L432.42 536.40 L433.11 536.40 L433.79 536.40 L434.47 536.40 L435.16 536.40 L435.84 536.40 L436.52 536.40 L437.21 536.40 L437.89 536.40 L438.57 536.40 L439.26 536.40 L439.94 536.40 L440.62 536.40 L441.31 536.40 L441.99 536.40 L442.67 536.40 L443.36 536.40 L444.04 536.39 L444.72 536.39 L445.41 536.39 L446.09 536.38 L446.77 536.37 L447.46 536.36 L448.14 536.34 L448.82 536.31 L449.51 536.27 L450.19 536.22 L450.87 536.15 L451.56 536.05 L452.24 535.93 L452.92 535.76 L453.60 535.55 L454.29 535.27 L454.97 534.93 L455.65 534.49 L456.34 533.96 L457.02 533.30 L457.70 532.50 L458.39 531.54 L459.07 530.42 L459.75 529.10 L460.44 527.58 L461.12 525.85 L461.80 523.90 L462.49 521.74 L463.17 519.38 L463.85 516.83 L464.54 514.12 L465.22 511.29 L465.90 508.38 L466.59 505.43 L467.27 502.52 L467.95 499.70 L468.64 497.03 L469.32 494.59 L470.00 492.43 L470.69 490.62 L471.37 489.20 L472.05 488.22 L472.74 487.71 L473.42 487.67 L474.10 488.12 L474.79 489.03 L475.47 490.39 L476.15 492.14 L476.84 494.25 L477.52 496.66 L478.20 499.30 L478.89 502.10 L479.57 505.01 L480.25 507.95 L480.94 510.87 L481.62 513.72 L482.30 516.45 L482.99 519.02 L483.67 521.41 L484.35 523.60 L485.04 525.58 L485.72 527.34 L486.40 528.89 L487.09 530.24 L487.77 531.39 L488.45 532.37 L489.14 533.19 L489.82 533.87 L490.50 534.42 L491.19 534.87 L491.87 535.23 L492.55 535.51 L493.24 535.73 L493.92 535.90 L494.60 536.04 L495.28 536.13 L495.97 536.21 L496.65 536.26 L497.33 536.30 L498.02 536.33 L498.70 536.35 L499.38 536.37 L500.07 536.38 L500.75 536.39 L501.43 536.39 L502.12 536.39 L502.80 536.40 L503.48 536.40 L504.17 536.40 L504.85 536.40 L505.53 536.40 L506.22 536.40 L506.90 536.40 L507.58 536.40" fill="none" stroke="#a81e3e" stroke-width="1.3" stroke-dasharray="2 1.8"/>
<line x1="303.50" y1="459.20" x2="303.50" y2="537.20" stroke="#161314" stroke-width="1.6" />
<line x1="302.70" y1="536.40" x2="507.60" y2="536.40" stroke="#4a1c24" stroke-width="1.7" />
<line x1="299.90" y1="536.40" x2="303.50" y2="536.40" stroke="#231f20" stroke-width="1.1" />
<text x="291.87" y="539.30" font-size="8.2" textLength="6.15" lengthAdjust="spacingAndGlyphs" stroke="#231f20" stroke-width="0.15" fill="#231f20" >0</text>
<line x1="299.90" y1="521.30" x2="303.50" y2="521.30" stroke="#231f20" stroke-width="1.1" />
<text x="286.48" y="524.20" font-size="8.2" textLength="11.51" lengthAdjust="spacingAndGlyphs" stroke="#231f20" stroke-width="0.15" fill="#231f20" >20</text>
<line x1="299.90" y1="506.20" x2="303.50" y2="506.20" stroke="#231f20" stroke-width="1.1" />
<text x="286.78" y="509.10" font-size="8.2" textLength="11.21" lengthAdjust="spacingAndGlyphs" stroke="#231f20" stroke-width="0.15" fill="#231f20" >40</text>
<line x1="299.90" y1="491.10" x2="303.50" y2="491.10" stroke="#231f20" stroke-width="1.1" />
<text x="286.48" y="494.00" font-size="8.2" textLength="11.51" lengthAdjust="spacingAndGlyphs" stroke="#231f20" stroke-width="0.15" fill="#231f20" >60</text>
<line x1="299.90" y1="476.00" x2="303.50" y2="476.00" stroke="#231f20" stroke-width="1.1" />
<text x="286.56" y="478.90" font-size="8.2" textLength="11.44" lengthAdjust="spacingAndGlyphs" stroke="#231f20" stroke-width="0.15" fill="#231f20" >80</text>
<line x1="299.90" y1="460.90" x2="303.50" y2="460.90" stroke="#231f20" stroke-width="1.1" />
<text x="280.92" y="463.80" font-size="8.2" textLength="17.07" lengthAdjust="spacingAndGlyphs" stroke="#231f20" stroke-width="0.15" fill="#231f20" >100</text>
<line x1="302.60" y1="536.40" x2="302.60" y2="539.80" stroke="#231f20" stroke-width="1.0" />
<line x1="317.20" y1="536.40" x2="317.20" y2="538.40" stroke="#231f20" stroke-width="1.0" />
<line x1="331.80" y1="536.40" x2="331.80" y2="539.80" stroke="#231f20" stroke-width="1.0" />
<line x1="346.40" y1="536.40" x2="346.40" y2="538.40" stroke="#231f20" stroke-width="1.0" />
<line x1="361.00" y1="536.40" x2="361.00" y2="539.80" stroke="#231f20" stroke-width="1.0" />
<line x1="375.60" y1="536.40" x2="375.60" y2="538.40" stroke="#231f20" stroke-width="1.0" />
<line x1="390.20" y1="536.40" x2="390.20" y2="539.80" stroke="#231f20" stroke-width="1.0" />
<line x1="404.80" y1="536.40" x2="404.80" y2="538.40" stroke="#231f20" stroke-width="1.0" />
<line x1="419.40" y1="536.40" x2="419.40" y2="539.80" stroke="#231f20" stroke-width="1.0" />
<line x1="434.00" y1="536.40" x2="434.00" y2="538.40" stroke="#231f20" stroke-width="1.0" />
<line x1="448.60" y1="536.40" x2="448.60" y2="539.80" stroke="#231f20" stroke-width="1.0" />
<line x1="463.20" y1="536.40" x2="463.20" y2="538.40" stroke="#231f20" stroke-width="1.0" />
<line x1="477.80" y1="536.40" x2="477.80" y2="539.80" stroke="#231f20" stroke-width="1.0" />
<line x1="492.40" y1="536.40" x2="492.40" y2="538.40" stroke="#231f20" stroke-width="1.0" />
<line x1="505.00" y1="536.40" x2="505.00" y2="539.80" stroke="#231f20" stroke-width="1.0" />
<text x="292.54" y="552.70" font-size="8.2" textLength="18.53" lengthAdjust="spacingAndGlyphs" stroke="#231f20" stroke-width="0.15" fill="#231f20" >−0.2</text>
<text x="329.01" y="552.70" font-size="8.2" textLength="5.57" lengthAdjust="spacingAndGlyphs" stroke="#231f20" stroke-width="0.15" fill="#231f20" >0</text>
<text x="354.75" y="552.70" font-size="8.2" textLength="12.61" lengthAdjust="spacingAndGlyphs" stroke="#231f20" stroke-width="0.15" fill="#231f20" >0.2</text>
<text x="383.95" y="552.70" font-size="8.2" textLength="12.41" lengthAdjust="spacingAndGlyphs" stroke="#231f20" stroke-width="0.15" fill="#231f20" >0.4</text>
<text x="413.15" y="552.70" font-size="8.2" textLength="12.54" lengthAdjust="spacingAndGlyphs" stroke="#231f20" stroke-width="0.15" fill="#231f20" >0.6</text>
<text x="442.35" y="552.70" font-size="8.2" textLength="12.54" lengthAdjust="spacingAndGlyphs" stroke="#231f20" stroke-width="0.15" fill="#231f20" >0.8</text>
<text x="471.70" y="552.70" font-size="8.2" textLength="12.86" lengthAdjust="spacingAndGlyphs" stroke="#231f20" stroke-width="0.15" fill="#231f20" >1.0</text>
<text x="498.39" y="552.70" font-size="8.2" textLength="12.98" lengthAdjust="spacingAndGlyphs" stroke="#231f20" stroke-width="0.15" fill="#231f20" >1.2</text>
<text x="363.57" y="447.30" font-size="11.0" textLength="83.45" lengthAdjust="spacingAndGlyphs" stroke="#231f20" stroke-width="0.2" fill="#231f20" >FXII-WT + εACA</text>
<text transform="translate(274.30,506.80) rotate(-90)" x="0" y="0" font-size="11.0" textLength="23.54" lengthAdjust="spacingAndGlyphs" stroke="#231f20" stroke-width="0.6" fill="#231f20">Counts</text>
<text x="377.45" y="568.40" font-size="11.0" textLength="55.67" lengthAdjust="spacingAndGlyphs" stroke="#231f20" stroke-width="0.55" fill="#231f20" >FRET efficiency</text>
</g>
<rect x="0.5" y="0.5" width="519" height="579" fill="none" stroke="#2e2e2e" stroke-width="1"/>
</svg>
</body></html>
